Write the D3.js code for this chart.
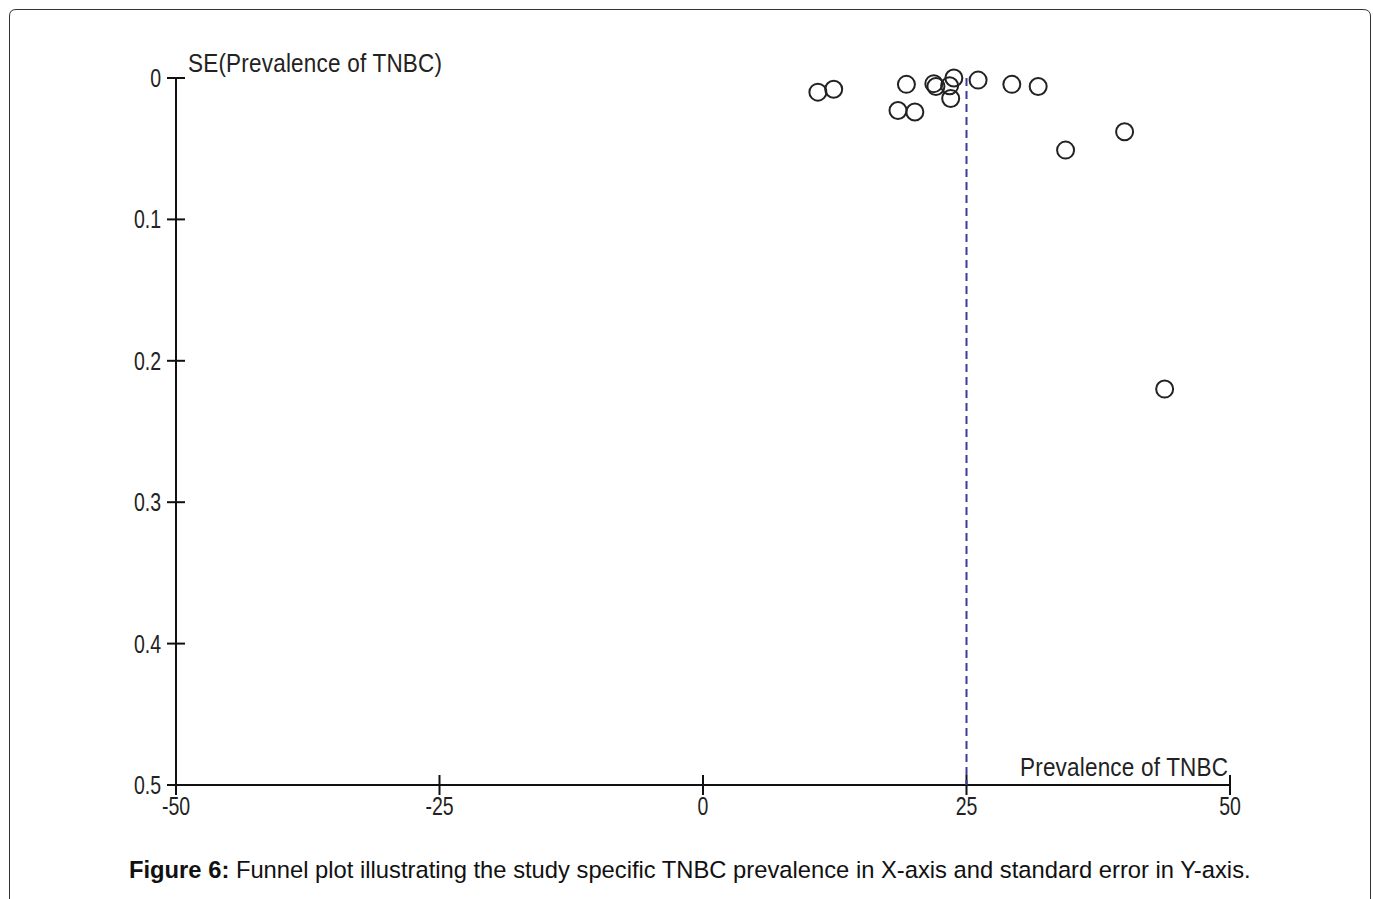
<!DOCTYPE html>
<html>
<head>
<meta charset="utf-8">
<script src="https://cdn.jsdelivr.net/npm/d3@7"></script>
<style>
  html, body { margin: 0; padding: 0; background: #fff; }
  svg { display: block; }
  .tick-label { font-family: "Liberation Sans", Arial, sans-serif; font-size: 25px; fill: #222; }
  .caption { font-family: "Liberation Sans", Arial, sans-serif; font-size: 23.75px; fill: #111; }
</style>
</head>
<body>
<svg id="chart" width="1373" height="899"></svg>
<script>
// study estimates
var prevalence = [10.9, 12.4, 19.3, 18.5, 20.1, 21.9, 22.1, 23.8, 23.4, 23.5, 26.1, 29.3, 31.8, 34.4, 40.0, 43.8];
var stdError   = [0.010, 0.008, 0.0045, 0.023, 0.024, 0.004, 0.006, 0.000, 0.0055, 0.0145, 0.0015, 0.0045, 0.006, 0.051, 0.038, 0.220];
var pooledPrevalence = 25;
var xTicks = [-50, -25, 0, 25, 50];
var yTicks = [0, 0.1, 0.2, 0.3, 0.4, 0.5];
var xTitle = "Prevalence of TNBC";
var yTitle = "SE(Prevalence of TNBC)";

var squeeze = 0.78; // the original uses a tall, narrow font for numbers

var svg = d3.select("#chart");

// panel border (open at the bottom, cut by the page edge)
svg.append("path")
  .attr("d", "M9.5,905 L9.5,16 Q9.5,9.5 16,9.5 L1363,9.5 Q1370.5,9.5 1370.5,16 L1370.5,905")
  .attr("fill", "none")
  .attr("stroke", "#333")
  .attr("stroke-width", 1);

var x = d3.scaleLinear().domain([-50, 50]).range([176, 1230]);
var y = d3.scaleLinear().domain([0, 0.5]).range([78, 785]);

function narrowText(g, px, py, anchor, str, sx) {
  return g.append("text")
    .attr("class", "tick-label")
    .attr("transform", "translate(" + px + "," + py + ") scale(" + sx + ",1)")
    .attr("text-anchor", anchor)
    .text(str);
}

// x axis
var gx = svg.append("g").attr("transform", "translate(0," + y(0.5) + ")");
gx.append("line")
  .attr("x1", x(-50)).attr("x2", x(50))
  .attr("stroke", "#111").attr("stroke-width", 2);
gx.selectAll(".xt").data(xTicks).enter().append("line")
  .attr("x1", function(d) { return x(d); }).attr("x2", function(d) { return x(d); })
  .attr("y1", -10).attr("y2", 10)
  .attr("stroke", "#111").attr("stroke-width", 2);
xTicks.forEach(function(d) { narrowText(gx, x(d), 30, "middle", d, squeeze); });

// y axis
var gy = svg.append("g").attr("transform", "translate(" + x(-50) + ",0)");
gy.append("line")
  .attr("y1", y(0)).attr("y2", y(0.5))
  .attr("stroke", "#111").attr("stroke-width", 2);
gy.selectAll(".yt").data(yTicks).enter().append("line")
  .attr("y1", function(d) { return y(d); }).attr("y2", function(d) { return y(d); })
  .attr("x1", -9).attr("x2", 9)
  .attr("stroke", "#111").attr("stroke-width", 2);
yTicks.forEach(function(d) { narrowText(gy, -15, y(d) + 9, "end", d, squeeze); });

// axis titles
narrowText(svg, 188, 72, "start", yTitle, 0.9)
  .attr("textLength", 254 / 0.9).attr("lengthAdjust", "spacing");
narrowText(svg, 1020, 776, "start", xTitle, 0.9)
  .attr("textLength", 208 / 0.9).attr("lengthAdjust", "spacing");

// pooled estimate
svg.append("line")
  .attr("x1", x(pooledPrevalence)).attr("x2", x(pooledPrevalence))
  .attr("y1", y(0)).attr("y2", y(0.5))
  .attr("stroke", "#3b3b9e").attr("stroke-width", 2)
  .attr("stroke-dasharray", "8,5");

// studies
svg.selectAll(".study").data(prevalence).enter().append("circle")
  .attr("cx", function(d) { return x(d); })
  .attr("cy", function(d, i) { return y(stdError[i]); })
  .attr("r", 8.5)
  .attr("fill", "none")
  .attr("stroke", "#222")
  .attr("stroke-width", 2);

// caption
var cap = svg.append("text").attr("class", "caption").attr("x", 129).attr("y", 878);
cap.append("tspan").attr("font-weight", "bold").text("Figure 6:");
cap.append("tspan").text(" Funnel plot illustrating the study specific TNBC prevalence in X-axis and standard error in Y-axis.");
</script>
</body>
</html>
